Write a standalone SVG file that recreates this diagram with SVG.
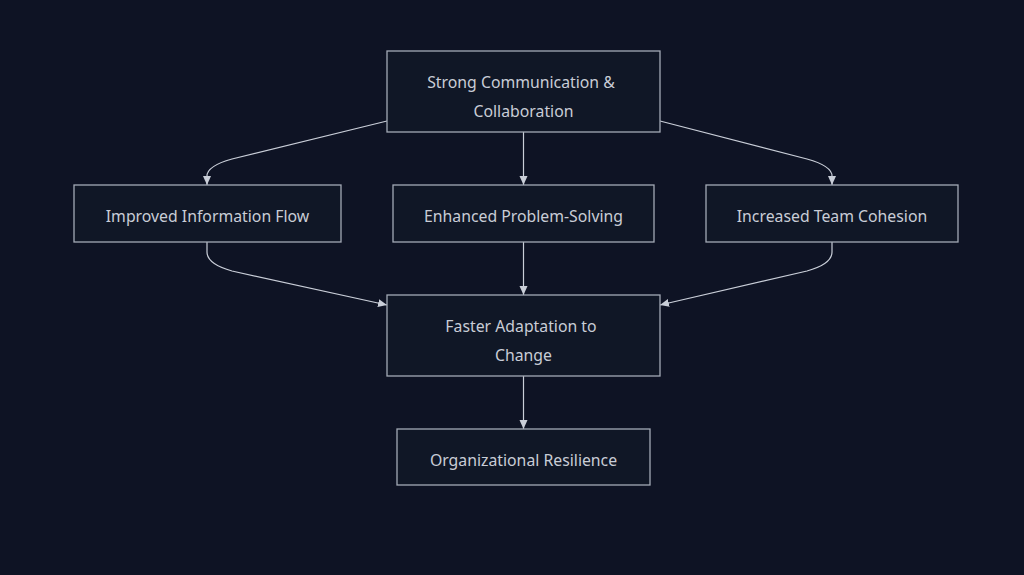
<svg xmlns="http://www.w3.org/2000/svg" width="1024" height="575" viewBox="0 0 1024 575">
<defs>
<marker id="arr" markerWidth="10" markerHeight="10" refX="9" refY="5" orient="auto" markerUnits="userSpaceOnUse">
<path d="M0,1 L9,5 L0,9 Z" fill="#c9ced8"/>
</marker>
<style>
.box{fill:#101726;stroke:#a3aab6;stroke-width:1.3}
.lbl{fill:#c9cdd6;font-family:"Noto Sans","DejaVu Sans",sans-serif;font-size:15.8px;text-anchor:middle}
.edge{fill:none;stroke:#c9ced8;stroke-width:1.2;marker-end:url(#arr)}
</style>
</defs>
<rect width="1024" height="575" fill="#0e1324"/>
<g id="connectors">
<path class="edge" d="M387,121 L232,159 Q207,166 207,176 L207,185"/>
<path class="edge" d="M523.5,132 L523.5,185"/>
<path class="edge" d="M660,121 L807,159 Q832,166 832,176 L832,185"/>
<path class="edge" d="M207,242 L207,252 Q207,264 232,271 L387,305"/>
<path class="edge" d="M523.5,242 L523.5,295"/>
<path class="edge" d="M832,242 L832,252 Q832,264 807,271 L660,305"/>
<path class="edge" d="M523.5,376 L523.5,429"/>
</g>
<g id="n1"><rect class="box" x="387" y="51" width="273" height="81"/>
<text class="lbl" x="521" y="88">Strong Communication &amp;</text>
<text class="lbl" x="523.5" y="117">Collaboration</text></g>
<g id="n2"><rect class="box" x="74" y="185" width="267" height="57"/>
<text class="lbl" x="207.5" y="222">Improved Information Flow</text></g>
<g id="n3"><rect class="box" x="393" y="185" width="261" height="57"/>
<text class="lbl" x="523.5" y="222">Enhanced Problem-Solving</text></g>
<g id="n4"><rect class="box" x="706" y="185" width="252" height="57"/>
<text class="lbl" x="832" y="222">Increased Team Cohesion</text></g>
<g id="n5"><rect class="box" x="387" y="295" width="273" height="81"/>
<text class="lbl" x="521" y="332">Faster Adaptation to</text>
<text class="lbl" x="523.5" y="361">Change</text></g>
<g id="n6"><rect class="box" x="397" y="429" width="253" height="56"/>
<text class="lbl" x="523.5" y="466">Organizational Resilience</text></g>
</svg>
